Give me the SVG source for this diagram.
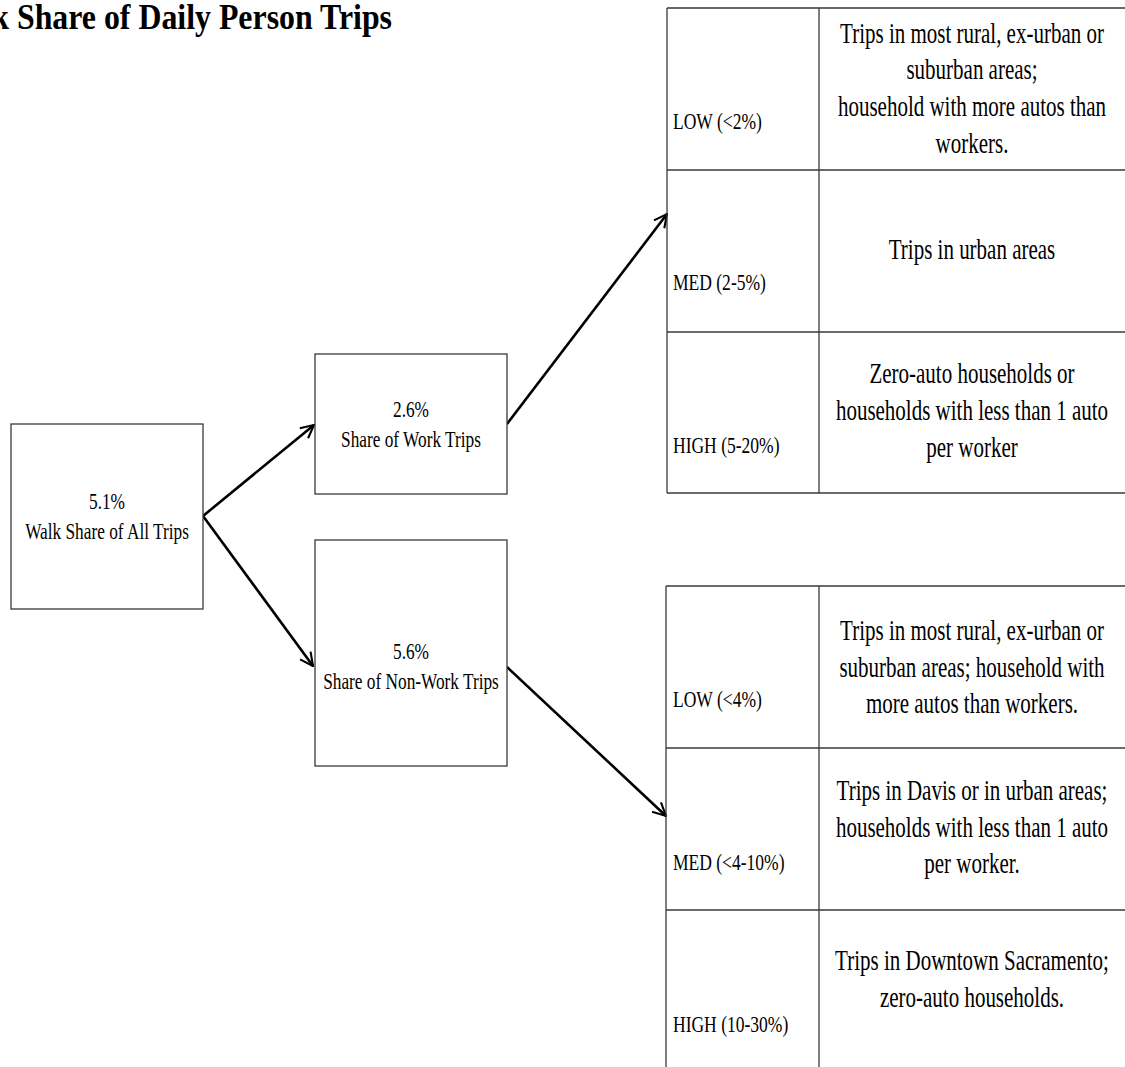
<svg xmlns="http://www.w3.org/2000/svg" width="1125" height="1067" viewBox="0 0 1125 1067">
  <defs>
    <style>
      .title { font-size: 35px; font-weight: bold; text-anchor: end; }
      .node { font-size: 24px; text-anchor: middle; }
      .lbl { font-size: 24px; text-anchor: start; }
      .desc { font-size: 30px; text-anchor: middle; }
      .box { fill: #fff; stroke: #3a3a3a; stroke-width: 1.3; }
      .grid { stroke: #3a3a3a; stroke-width: 1.3; fill: none; }
      .conn { stroke: #000; stroke-width: 2.6; fill: none; }
    </style>
    <marker id="open-arrow" viewBox="0 0 12 12" refX="11" refY="6" markerWidth="6" markerHeight="6" markerUnits="strokeWidth" orient="auto">
      <path d="M1,1 L11,6 L1,11" fill="none" stroke="#000" stroke-width="1.6"/>
    </marker>
  </defs>

  <rect width="1125" height="1067" fill="#fff"/>

  <g font-family="Liberation Serif, Tinos, Times New Roman, DejaVu Serif, serif" fill="#000">

  <!-- heading -->
  <g id="title" transform="translate(392,0) scale(0.91,1)">
    <text class="title" x="0" y="29">k Share of Daily Person Trips</text>
  </g>

  <!-- connectors -->
  <g id="connectors">
    <line class="conn" x1="203" y1="516" x2="314" y2="425" marker-end="url(#open-arrow)"/>
    <line class="conn" x1="203" y1="516" x2="313" y2="666" marker-end="url(#open-arrow)"/>
    <line class="conn" x1="507" y1="424" x2="667" y2="214" marker-end="url(#open-arrow)"/>
    <line class="conn" x1="507" y1="667" x2="666" y2="816" marker-end="url(#open-arrow)"/>
  </g>

  <!-- root node -->
  <g id="node-all">
    <rect class="box" x="11" y="424" width="192" height="185"/>
    <g transform="translate(107,0) scale(0.72,1)">
      <text class="node" x="0" y="509">5.1%</text>
      <text class="node" x="0" y="539">Walk Share of All Trips</text>
    </g>
  </g>

  <!-- work trips node -->
  <g id="node-work">
    <rect class="box" x="315" y="354" width="192" height="140"/>
    <g transform="translate(411,0) scale(0.72,1)">
      <text class="node" x="0" y="417">2.6%</text>
      <text class="node" x="0" y="447">Share of Work Trips</text>
    </g>
  </g>

  <!-- non-work trips node -->
  <g id="node-nonwork">
    <rect class="box" x="315" y="540" width="192" height="226"/>
    <g transform="translate(411,0) scale(0.72,1)">
      <text class="node" x="0" y="659">5.6%</text>
      <text class="node" x="0" y="689">Share of Non-Work Trips</text>
    </g>
  </g>

  <!-- work trips categories -->
  <g id="table-work">
    <path class="grid" d="M667,8 H1125 M667,170 H1125 M667,332 H1125 M667,493 H1125 M667,8 V493 M819,8 V493"/>
    <g transform="translate(673,0) scale(0.73,1)">
      <text class="lbl" x="0" y="129">LOW (&lt;2%)</text>
      <text class="lbl" x="0" y="290">MED (2-5%)</text>
      <text class="lbl" x="0" y="453">HIGH (5-20%)</text>
    </g>
    <g transform="translate(972,0) scale(0.70,1)">
      <text class="desc" x="0" y="43">Trips in most rural, ex-urban or</text>
      <text class="desc" x="0" y="79">suburban areas;</text>
      <text class="desc" x="0" y="116">household with more autos than</text>
      <text class="desc" x="0" y="153">workers.</text>
      <text class="desc" x="0" y="259">Trips in urban areas</text>
      <text class="desc" x="0" y="383">Zero-auto households or</text>
      <text class="desc" x="0" y="420">households with less than 1 auto</text>
      <text class="desc" x="0" y="457">per worker</text>
    </g>
  </g>

  <!-- non-work trips categories -->
  <g id="table-nonwork">
    <path class="grid" d="M666,586 H1125 M666,748 H1125 M666,910 H1125 M666,586 V1067 M819,586 V1067"/>
    <g transform="translate(673,0) scale(0.73,1)">
      <text class="lbl" x="0" y="707">LOW (&lt;4%)</text>
      <text class="lbl" x="0" y="870">MED (&lt;4-10%)</text>
      <text class="lbl" x="0" y="1032">HIGH (10-30%)</text>
    </g>
    <g transform="translate(972,0) scale(0.70,1)">
      <text class="desc" x="0" y="640">Trips in most rural, ex-urban or</text>
      <text class="desc" x="0" y="677">suburban areas; household with</text>
      <text class="desc" x="0" y="713">more autos than workers.</text>
      <text class="desc" x="0" y="800">Trips in Davis or in urban areas;</text>
      <text class="desc" x="0" y="837">households with less than 1 auto</text>
      <text class="desc" x="0" y="873">per worker.</text>
      <text class="desc" x="0" y="970">Trips in Downtown Sacramento;</text>
      <text class="desc" x="0" y="1007">zero-auto households.</text>
    </g>
  </g>

  </g>
</svg>
